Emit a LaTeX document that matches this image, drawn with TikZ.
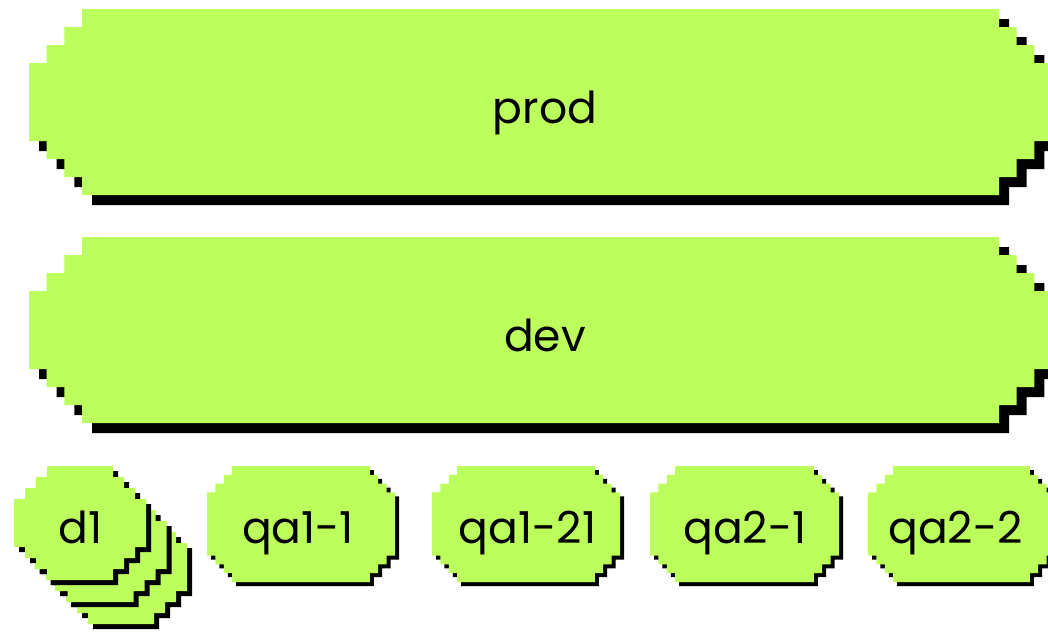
\documentclass[tikz,border=0pt]{standalone}
\usepackage{fontspec}
\setmainfont{Poppins}
\definecolor{boxc}{RGB}{188,255,92}
\definecolor{shadowc}{RGB}{0,0,0}
% stepped ("pixel") outline: style, x1, y1, x2, y2, step x, step y
\newcommand\pixfill[7]{%
  \fill[#1] ({#2+3*#6},#3) -- ({#4-3*#6},#3) -- ({#4-3*#6},{#3+#7}) -- ({#4-2*#6},{#3+#7})
    -- ({#4-2*#6},{#3+2*#7}) -- ({#4-#6},{#3+2*#7}) -- ({#4-#6},{#3+3*#7}) -- (#4,{#3+3*#7})
    -- (#4,{#5-3*#7}) -- ({#4-#6},{#5-3*#7}) -- ({#4-#6},{#5-2*#7}) -- ({#4-2*#6},{#5-2*#7})
    -- ({#4-2*#6},{#5-#7}) -- ({#4-3*#6},{#5-#7}) -- ({#4-3*#6},#5) -- ({#2+3*#6},#5)
    -- ({#2+3*#6},{#5-#7}) -- ({#2+2*#6},{#5-#7}) -- ({#2+2*#6},{#5-2*#7}) -- ({#2+#6},{#5-2*#7})
    -- ({#2+#6},{#5-3*#7}) -- (#2,{#5-3*#7}) -- (#2,{#3+3*#7}) -- ({#2+#6},{#3+3*#7})
    -- ({#2+#6},{#3+2*#7}) -- ({#2+2*#6},{#3+2*#7}) -- ({#2+2*#6},{#3+#7}) -- ({#2+3*#6},{#3+#7}) -- cycle;}
% box with hard shadow: x1, y1, x2, y2, step x, step y, shadow offset
\newcommand\pixbox[7]{%
  \pixfill{shadowc,shift={(#7,#7)}}{#1}{#2}{#3}{#4}{#5}{#6}%
  \pixfill{boxc}{#1}{#2}{#3}{#4}{#5}{#6}}
\begin{document}
\begin{tikzpicture}[x=1pt,y=-1pt,
  lbl/.style={font=\fontsize{44}{44}\selectfont, anchor=base, inner sep=0pt, text=black}]
\useasboundingbox (0,0) rectangle (1048,633);
\clip (0,0) rectangle (1048,633);
% big boxes
\pixbox{29}{9}{1052}{195}{17.67}{18}{10}
\pixbox{29}{237}{1052}{423}{17.67}{18}{10}
% d1 stack
\pixbox{55}{510}{187}{624}{11}{11}{5}
\pixbox{34.5}{488}{166.5}{602}{11}{11}{5}
\pixbox{14}{466}{146}{580}{11}{11}{5}
% small boxes
\pixbox{207}{466}{395}{582}{8.4}{8.8}{4}
\pixbox{432}{466}{620}{582}{8.4}{8.8}{4}
\pixbox{650}{466}{839}{582}{8.4}{8.8}{4}
\pixbox{868}{466}{1055}{582}{8.4}{8.8}{4}
% labels
\node[lbl] (prod) at (545,123) {prod};
\node[lbl] (dev) at (545,351) {dev};
\node[lbl] (d1) at (80.5,543) {d1};
\node[lbl] (qa11) at (298,543) {qa1-1};
\node[lbl] (qa121) at (527.5,543) {qa1-21};
\node[lbl] (qa21) at (745,543) {qa2-1};
\node[lbl] (qa22) at (955.5,543) {qa2-2};
\end{tikzpicture}
\end{document}
